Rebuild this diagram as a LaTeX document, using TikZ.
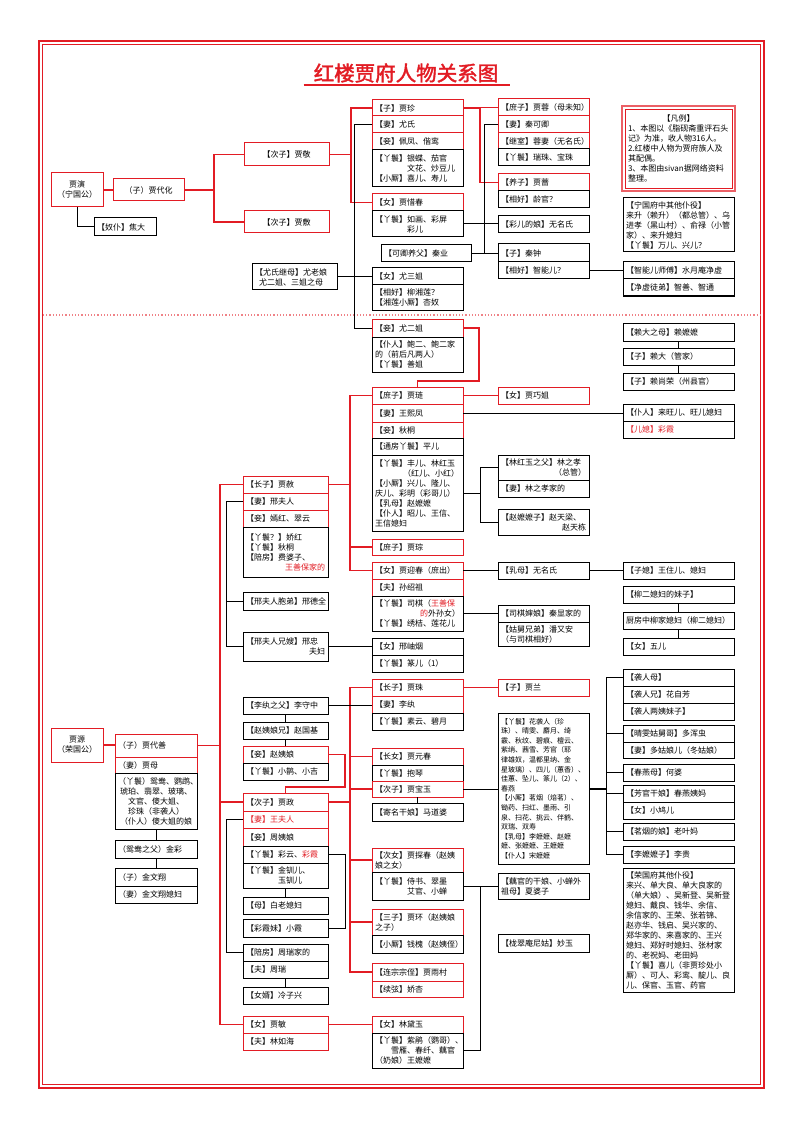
\documentclass[tikz,border=0pt]{standalone}
\usepackage{fontspec}
\setmainfont{Noto Sans CJK SC}[AutoFakeBold=2]
\usepackage{tikz}

\definecolor{hred}{RGB}{226,28,36}
\newcommand\rt{\hskip 0pt plus 1fill\relax}

\tikzset{
  bx/.style={draw=black,line width=1pt,fill=white,anchor=north west,inner xsep=3pt,inner ysep=1pt,
    outer sep=0pt,align=left,font=\fontsize{8pt}{10pt}\selectfont},
  rb/.style={bx,draw=hred},
  ht/.style={minimum height=#1pt},
  c1/.style={text width=46pt,align=center},
  c2/.style={text width=76pt},
  c3/.style={text width=79pt},
  c4/.style={text width=85pt},
  c5/.style={text width=85pt},
  c6/.style={text width=105pt},
  ln/.style={line width=1pt,black},
  rl/.style={line width=1.2pt,hred},
}

\begin{document}
\begin{tikzpicture}[x=1pt,y=-1pt]
\useasboundingbox (0,0) rectangle (800,1131);
\draw[hred,line width=2.2pt] (39,41) rectangle (764,1088);
\draw[hred,line width=.6pt] (42.5,44.5) rectangle (760.5,1084.5);
\draw[hred!55,dotted,line width=1.2pt] (43,315) -- (760,315);

\node[font=\fontsize{20.5pt}{22pt}\selectfont\bfseries,text=hred,inner sep=0pt] (title) at (406,73) {红楼贾府人物关系图};
\draw[hred,line width=1.6pt] ([xshift=-10pt,yshift=-2pt]title.south west) -- ([xshift=12pt,yshift=-2pt]title.south east);

% 宁国府
\node[rb,c1,ht=34] (yan) at (51,173) {贾演\\（宁国公）};
\node[rb,text width=65pt,align=center,ht=22] (daihua) at (113,179) {（子）贾代化};
\node[bx,text width=56pt,ht=18] (jiaoda) at (94,218) {【奴仆】焦大};
\node[rb,c3,ht=23] (jing) at (244,143) {\rt【次子】贾敬\rt\null};
\node[rb,c3,ht=22] (fu) at (244,211) {\rt【次子】贾敷\rt\null};
\node[bx,c3,ht=26] (laoniang) at (252,264) {【尤氏继母】尤老娘\\\hspace*{4pt}尤二姐、三姐之母};

\node[rb,c4,ht=16] (zhen) at (372,100) {【子】贾珍};
\node[rb,c4,ht=17] (youshi) at (372,116) {【妻】尤氏};
\node[rb,c4,ht=17] (peifeng) at (372,133) {【妾】佩凤、偕鸾};
\node[bx,c4,ht=37] (zhenyh) at (372,150) {【丫鬟】银蝶、茄官\\\hspace*{32pt}文花、炒豆儿\\【小厮】喜儿、寿儿};
\node[rb,c4,ht=17] (xichun) at (372,194) {【女】贾惜春};
\node[bx,c4,ht=26] (xcyh) at (372,211) {【丫鬟】如画、彩屏\\\hspace*{32pt}彩儿};
\node[bx,text width=84pt,ht=17] (qinye) at (381,245) {【可卿养父】秦业};
\node[bx,c4,ht=17] (yousanjie) at (372,268) {【女】尤三姐};
\node[bx,c4,ht=25] (xianglian) at (372,285) {【相好】柳湘莲？\\【湘莲小厮】杏奴};

\node[rb,c5,ht=17] (rong) at (498,99) {【庶子】贾蓉（母未知）};
\node[rb,c5,ht=17] (keqing) at (498,116) {【妻】秦可卿};
\node[rb,c5,ht=16] (xushi) at (498,133) {【继室】蓉妻（无名氏）};
\node[bx,c5,ht=17] (rongyh) at (498,149) {【丫鬟】瑞珠、宝珠};
\node[rb,c5,ht=17] (qiang) at (498,174) {【养子】贾蔷};
\node[bx,c5,ht=17] (lingguan) at (498,191) {【相好】龄官？};
\node[bx,c5,ht=17] (caierniang) at (498,216) {【彩儿的娘】无名氏};
\node[bx,c5,ht=18] (qinzhong) at (498,244) {【子】秦钟};
\node[bx,c5,ht=17] (zhinenger) at (498,262) {【相好】智能儿？};

\node[bx,draw=hred!70,line width=2.5pt,inner xsep=6pt,text width=101pt,ht=85] (fanli) at (622,106) {\rt【凡例】\rt\null\\1、本图以《脂砚斋重评石头\\记》为准，收人物316人。\\2.红楼中人物为贾府族人及\\其配偶。\\3、本图由sivan据网络资料\\整理。};
\draw[hred,line width=.8pt] ([shift={(3pt,-3pt)}]fanli.north west) rectangle ([shift={(-3pt,3pt)}]fanli.south east);
\node[bx,c6,ht=54] (ningpu) at (623,198) {【宁国府中其他仆役】\\来升（赖升）（都总管）、乌\\进孝（黑山村）、俞禄（小管\\家）、来升媳妇\\【丫鬟】万儿、兴儿？};
\node[bx,c6,ht=17] (jingxu) at (623,262) {【智能儿师傅】水月庵净虚};
\node[bx,c6,ht=17] (jingxutu) at (623,279) {【净虚徒弟】智善、智通};

% 荣国府
\node[rb,c4,ht=18] (erjie) at (372,319) {【妾】尤二姐};
\node[bx,c4,ht=35] (erjiepu) at (372,337) {【仆人】鲍二、鲍二家\\的（前后凡两人）\\【丫鬟】善姐};
\node[bx,c6,ht=18] (laimama) at (623,323) {【赖大之母】赖嬷嬷};
\node[bx,c6,ht=17] (laida) at (623,348) {【子】赖大（管家）};
\node[bx,c6,ht=17] (laishangrong) at (623,373) {【子】赖尚荣（州县官）};

\node[rb,c4,ht=17] (lian) at (372,387) {【庶子】贾琏};
\node[rb,c4,ht=18] (xifeng) at (372,404) {【妻】王熙凤};
\node[rb,c4,ht=16] (qiutong) at (372,422) {【妾】秋桐};
\node[bx,c4,ht=17] (pinger) at (372,438) {【通房丫鬟】平儿};
\node[bx,c4,ht=76] (lianyh) at (372,455) {【丫鬟】丰儿、林红玉\\\hspace*{28pt}（红儿、小红）\\【小厮】兴儿、隆儿、\\庆儿、彩明（彩哥儿）\\【乳母】赵嬷嬷\\【仆人】昭儿、王信、\\王信媳妇};
\node[rb,c4,ht=16] (cong) at (372,539) {【庶子】贾琮};
\node[rb,c5,ht=17] (qiaojie) at (498,387) {【女】贾巧姐};
\node[bx,c5,ht=25] (linzhixiao) at (498,455) {【林红玉之父】林之孝\\\rt（总管）};
\node[bx,c5,ht=17] (linjia) at (498,480) {【妻】林之孝家的};
\node[bx,c5,ht=26] (zhaotl) at (498,509) {【赵嬷嬷子】赵天梁、\\\rt 赵天栋};
\node[bx,c6,ht=17] (laiwang) at (623,404) {【仆人】来旺儿、旺儿媳妇};
\node[bx,c6,ht=17] (caixia) at (623,421) {\textcolor{hred}{【儿媳】彩霞}};

\node[rb,c3,ht=17] (she) at (243,476) {【长子】贾赦};
\node[rb,c3,ht=17] (xingfr) at (243,493) {【妻】邢夫人};
\node[rb,c3,ht=17] (sheqie) at (243,510) {【妾】嫣红、翠云};
\node[bx,c3,ht=50] (sheyh) at (243,527) {【丫鬟？】娇红\\【丫鬟】秋桐\\【陪房】费婆子、\\\rt\textcolor{hred}{王善保家的}};
\node[bx,c3,ht=18] (xingdq) at (243,592) {【邢夫人胞弟】邢德全};
\node[bx,c3,ht=29] (xingzhong) at (243,632) {【邢夫人兄嫂】邢忠\\\rt 夫妇};

\node[rb,c4,ht=17] (yingchun) at (372,562) {【女】贾迎春（庶出）};
\node[rb,c4,ht=17] (sunshaozu) at (372,579) {【夫】孙绍祖};
\node[bx,c4,ht=35] (yingyh) at (372,596) {【丫鬟】司棋（\textcolor{hred}{王善保}\\\rt\textcolor{hred}{的}外孙女）\\【丫鬟】绣桔、莲花儿};
\node[bx,c4,ht=17] (xiuyan) at (372,638) {【女】邢岫烟};
\node[bx,c4,ht=17] (zhuaner) at (372,655) {【丫鬟】篆儿（1）};
\node[bx,c5,ht=17] (rumu) at (498,562) {【乳母】无名氏};
\node[bx,c5,ht=17] (qxjia) at (498,605) {【司棋婶娘】秦显家的};
\node[bx,c5,ht=24] (panyouan) at (498,622) {【姑舅兄弟】潘又安\\（与司棋相好）};
\node[bx,c6,ht=17] (zhuer) at (623,562) {【子媳】王住儿、媳妇};
\node[bx,c6,ht=17] (liumeizi) at (623,586) {【柳二媳妇的妹子】};
\node[bx,c6,ht=17] (liujia) at (623,612) {厨房中柳家媳妇（柳二媳妇）};
\node[bx,c6,ht=17] (wuer) at (623,638) {【女】五儿};

\node[rb,c4,ht=17] (zhu) at (372,679) {【长子】贾珠};
\node[rb,c4,ht=17] (liwan) at (372,696) {【妻】李纨};
\node[bx,c4,ht=17] (liwanyh) at (372,713) {【丫鬟】素云、碧月};
\node[rb,c5,ht=17] (lan) at (498,679) {【子】贾兰};

\node[bx,c3,ht=17] (lishouzhong) at (243,697) {【李纨之父】李守中};
\node[bx,c3,ht=17] (zhaoguoji) at (243,722) {【赵姨娘兄】赵国基};
\node[rb,c3,ht=17] (zhaoyn) at (243,746) {【妾】赵姨娘};
\node[bx,c3,ht=17] (zhaoyh) at (243,763) {【丫鬟】小鹊、小吉};
\node[rb,c3,ht=18] (zheng) at (243,793) {【次子】贾政};
\node[rb,c3,ht=17] (wangfr) at (243,811) {\textcolor{hred}{【妻】王夫人}};
\node[rb,c3,ht=18] (zhouyn) at (243,828) {【妾】周姨娘};
\node[bx,c3,ht=17] (wangyh) at (243,846) {【丫鬟】彩云、\textcolor{hred}{彩霞}};
\node[bx,c3,ht=25] (jinchuan) at (243,863) {【丫鬟】金钏儿、\\\hspace*{32pt}玉钏儿};
\node[bx,c3,ht=17] (baimu) at (243,897) {【母】白老媳妇};
\node[bx,c3,ht=18] (xiaoxia) at (243,919) {【彩霞妹】小霞};
\node[bx,c3,ht=17] (zhouruijia) at (243,944) {【陪房】周瑞家的};
\node[bx,c3,ht=17] (zhourui) at (243,961) {【夫】周瑞};
\node[bx,c3,ht=17] (lengzx) at (243,987) {【女婿】冷子兴};
\node[rb,c3,ht=17] (min) at (243,1016) {【女】贾敏};
\node[rb,c3,ht=17] (linruhai) at (243,1033) {【夫】林如海};

\node[rb,c1,ht=34] (yuan) at (51,728) {贾源\\（荣国公）};
\node[rb,c2,ht=23] (daishan) at (115,734) {（子）贾代善};
\node[rb,c2,ht=16] (jiamu) at (115,757) {（妻）贾母};
\node[bx,c2,align=center,ht=56] (jiamuyh) at (115,773) {（丫鬟）鸳鸯、鹦鹉、\\琥珀、翡翠、玻璃、\\文官、傻大姐、\\珍珠（非袭人）\\（仆人）傻大姐的娘};
\node[bx,c2,ht=18] (jincai) at (115,840) {（鸳鸯之父）金彩};
\node[bx,c2,ht=18] (jinwx) at (115,868) {（子）金文翔};
\node[bx,c2,ht=17] (jinwxw) at (115,886) {（妻）金文翔媳妇};

\node[rb,c4,ht=17] (yuanchun) at (372,748) {【长女】贾元春};
\node[bx,c4,ht=16] (baoqin) at (372,765) {【丫鬟】抱琴};
\node[rb,c4,ht=16] (baoyu) at (372,781) {【次子】贾宝玉};
\node[bx,c4,ht=18] (madaopo) at (372,803) {【寄名干娘】马道婆};
\node[rb,c4,ht=24] (tanchun) at (372,848) {【次女】贾探春（赵姨\\娘之女）};
\node[bx,c4,ht=28] (tanyh) at (372,872) {【丫鬟】侍书、翠墨\\\hspace*{32pt}艾官、小蝉};
\node[rb,c4,ht=26] (huan) at (372,909) {【三子】贾环（赵姨娘\\之子）};
\node[bx,c4,ht=18] (qianhuai) at (372,935) {【小厮】钱槐（赵姨侄）};
\node[rb,c4,ht=18] (yucun) at (372,963) {【连宗宗侄】贾雨村};
\node[rb,c4,ht=16] (jiaoxing) at (372,981) {【续弦】娇杏};
\node[rb,c4,ht=17] (daiyu) at (372,1016) {【女】林黛玉};
\node[bx,c4,ht=35] (daiyuyh) at (372,1033) {【丫鬟】紫鹃（鹦哥）、\\\hspace*{16pt}雪雁、春纤、藕官\\（奶娘）王嬷嬷};

\node[bx,c5,ht=151,font=\fontsize{7pt}{9.6pt}\selectfont] (baoyuyh) at (498,713) {【丫鬟】花袭人（珍\\珠）、晴雯、麝月、绮\\霰、秋纹、碧痕、檀云、\\紫绡、茜雪、芳官（耶\\律雄奴，温都里纳、金\\星玻璃）、四儿（蕙香）、\\佳蕙、坠儿、篆儿（2）、\\春燕\\【小厮】茗烟（焙茗）、\\锄药、扫红、墨雨、引\\泉、扫花、挑云、伴鹤、\\双瑞、双寿\\【乳母】李嬷嬷、赵嬷\\嬷、张嬷嬷、王嬷嬷\\【仆人】宋嬷嬷};
\node[bx,c5,ht=26] (xiapozi) at (498,873) {【藕官的干娘、小蝉外\\祖母】夏婆子};
\node[bx,c5,ht=18] (miaoyu) at (498,934) {【栊翠庵尼姑】妙玉};

\node[bx,c6,ht=17] (xirenmu) at (623,669) {【袭人母】};
\node[bx,c6,ht=17] (xirenxiong) at (623,686) {【袭人兄】花自芳};
\node[bx,c6,ht=17] (xirenmei) at (623,703) {【袭人两姨妹子】};
\node[bx,c6,ht=17] (duohunchong) at (623,725) {【晴雯姑舅哥】多浑虫};
\node[bx,c6,ht=16] (duoguniang) at (623,742) {【妻】多姑娘儿（冬姑娘）};
\node[bx,c6,ht=17] (hepo) at (623,764) {【春燕母】何婆};
\node[bx,c6,ht=17] (chunyanyima) at (623,785) {【芳官干娘】春燕姨妈};
\node[bx,c6,ht=17] (xiaojiuer) at (623,802) {【女】小鸠儿};
\node[bx,c6,ht=17] (laoyema) at (623,823) {【茗烟的娘】老叶妈};
\node[bx,c6,ht=17] (ligui) at (623,846) {【李嬷嬷子】李贵};
\node[bx,c6,ht=124] (rongpu) at (623,868) {【荣国府其他仆役】\\来兴、单大良、单大良家的\\（单大娘）、吴新登、吴新登\\媳妇、戴良、钱华、余信、\\余信家的、王荣、张若锦、\\赵亦华、钱启、吴兴家的、\\郑华家的、来喜家的、王兴\\媳妇、郑好时媳妇、张材家\\的、老祝妈、老田妈\\【丫鬟】喜儿（非贾珍处小\\厮）、可人、彩鸾、靛儿、良\\儿、保官、玉官、药官};

% 宁国府 connectors
\draw[rl] (yan.east) -- (yan.east -| daihua.west);
\draw[ln] (yan.south) |- (jiaoda.west);
\draw[rl] (daihua.east) -- ++(30,0) |- (jing.west);
\draw[rl] (daihua.east) -- ++(30,0) |- (fu.west);
\draw[rl] (jing.east) -- ++(22,0) |- (zhen.west);
\draw[rl] (jing.east) -- ++(22,0) |- (xichun.west);
\draw[ln] (youshi.west) -- ++(-18,0) |- (erjie.west);
\draw[ln] (laoniang.east) -- (laoniang.east -| yousanjie.west);
\draw[rl] (zhen.east) -- ++(17,0) |- (rong.west);
\draw[rl] (zhen.east) -- ++(17,0) |- (qiang.west);
\draw[ln] (keqing.west) -- ++(-14,0) |- (qinye.east);
\draw[ln] (qinye.east) -- (qinye.east -| qinzhong.west);
\draw[ln] (xcyh.east) -- (xcyh.east -| caierniang.west);
\draw[ln] (zhinenger.east) -- (zhinenger.east -| jingxu.west);

% 荣国府 connectors
\draw[rl] (erjie.east) -- ++(16,0) |- ([yshift=6pt]lian.north) -- (lian.north);
\draw[rl] (lian.east) -- (lian.east -| qiaojie.west);
\draw[ln] (xifeng.east) -- (xifeng.east -| laiwang.west);
\draw[ln] (lianyh.east) -- ++(17,0) |- (linzhixiao.west);
\draw[ln] (lianyh.east) -- ++(17,0) |- (zhaotl.west);
\draw[ln] (laimama.south) -- (laida.north);
\draw[ln] (laida.south) -- (laishangrong.north);
\draw[rl] (yuan.east) -- (yuan.east -| daishan.west);
\draw[rl] (daishan.east) -- ++(23,0) |- (she.west);
\draw[rl] (daishan.east) -- ++(23,0) |- (zheng.west);
\draw[rl] (daishan.east) -- ++(23,0) |- (min.west);
\draw[rl] (she.east) -- ++(22,0) |- (lian.west);
\draw[rl] (she.east) -- ++(22,0) |- (cong.west);
\draw[rl] (she.east) -- ++(22,0) |- (yingchun.west);
\draw[ln] (xingfr.west) -- ++(-17,0) |- (xingdq.west);
\draw[ln] (xingfr.west) -- ++(-17,0) |- (xingzhong.west);
\draw[ln] (yingchun.east) -- (yingchun.east -| rumu.west);
\draw[ln] (rumu.east) -- (rumu.east -| zhuer.west);
\draw[ln] (yingyh.east) -- (yingyh.east -| qxjia.west);
\draw[ln] (xingzhong.east) -- (xingzhong.east -| xiuyan.west);
\draw[ln] (liumeizi.south) -- (liujia.north);
\draw[ln] (liujia.south) -- (wuer.north);
\draw[rl,line width=2.2pt] (zheng.east) -- ++(22,0);
\draw[rl] (zheng.east) -- ++(22,0) |- (zhu.west);
\draw[rl] (zheng.east) -- ++(22,0) |- (yuanchun.west);
\draw[rl] (zheng.east) -- ++(22,0) |- (baoyu.west);
\draw[rl] (zheng.east) -- ++(22,0) |- (tanchun.west);
\draw[rl] (zheng.east) -- ++(22,0) |- (huan.west);
\draw[rl] (zheng.east) -- ++(22,0) |- (yucun.west);
\draw[rl] (zhu.east) -- (zhu.east -| lan.west);
\draw[ln] (lishouzhong.east) -- (lishouzhong.east -| liwan.west);
\draw[ln] (lishouzhong.south) -- (zhaoguoji.north);
\draw[ln] (zhaoguoji.south) -- (zhaoyn.north);
\draw[rl] (zhaoyn.east) -- ++(17,0) |- ([yshift=6pt]zheng.north) -- (zheng.north);
\draw[ln] (wangfr.west) -- ++(-17,0) |- (zhouruijia.west);
\draw[ln] (jinchuan.south) -- (baimu.north);
\draw[ln] (wangyh.east) -- ++(17,0) |- (xiaoxia.east);
\draw[ln] (zhourui.south) -- (lengzx.north);
\draw[rl] (min.east) -- (min.east -| daiyu.west);
\draw[ln] (jiamuyh.south) -- (jincai.north);
\draw[ln] (jincai.south) -- (jinwx.north);
\draw[ln] (baoyu.south) -- (madaopo.north);
\draw[ln] (baoyu.east) -- (baoyu.east -| baoyuyh.west);
\coordinate (byr) at (baoyu.east -| baoyuyh.east);
\draw[ln,line width=2pt] (byr) -- ++(17,0);
\draw[ln] (byr) -- ++(17,0) |- (xirenmu.west);
\draw[ln] (byr) -- ++(17,0) |- (duohunchong.west);
\draw[ln] (byr) -- ++(17,0) |- (hepo.west);
\draw[ln] (byr) -- ++(17,0) |- (chunyanyima.west);
\draw[ln] (byr) -- ++(17,0) |- (laoyema.west);
\draw[ln] (byr) -- ++(17,0) |- (ligui.west);
\draw[ln] (tanyh.east) -- ++(17,0) |- (daiyuyh.east);
\draw[ln] (tanyh.east) -- (tanyh.east -| xiapozi.west);
\end{tikzpicture}
\end{document}
